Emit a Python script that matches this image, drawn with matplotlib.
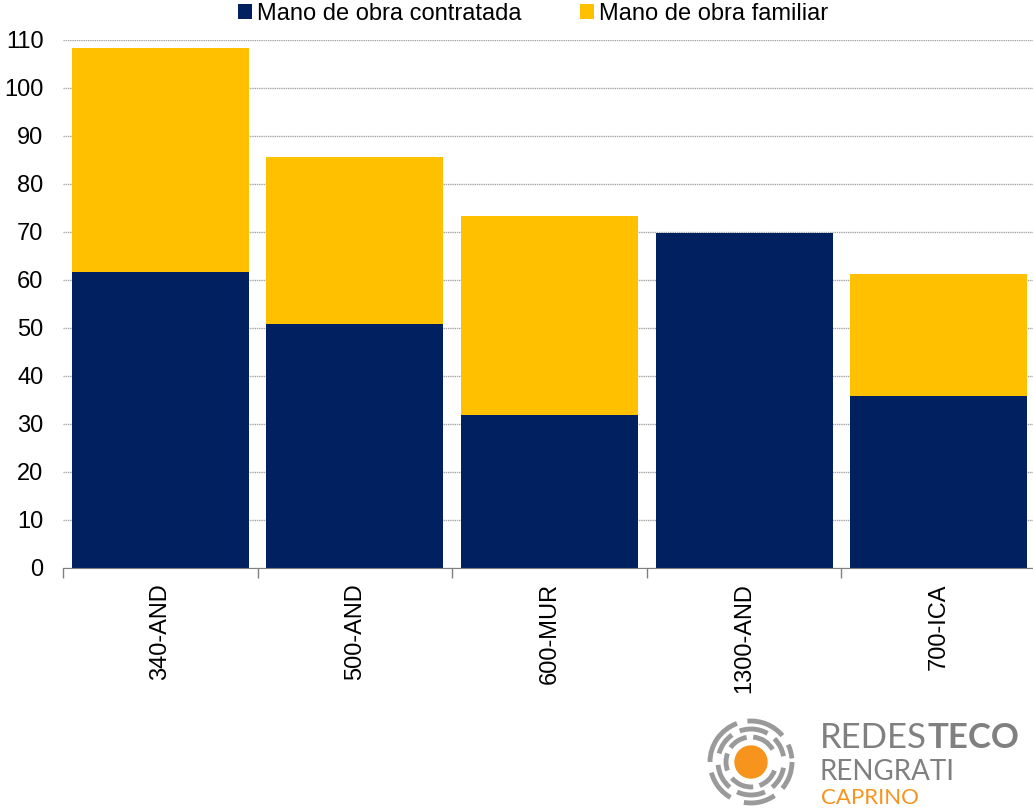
import matplotlib
matplotlib.use('Agg')
import matplotlib.pyplot as plt
import numpy as np
from matplotlib.patches import Circle, Arc

plt.rcParams['font.family'] = ['Liberation Sans', 'DejaVu Sans']

# data
categories = ['340-AND', '500-AND', '600-MUR', '1300-AND', '700-ICA']
contratada = [61.7, 50.8, 31.9, 69.8, 35.8]
familiar = [46.6, 34.8, 41.4, 0.0, 25.4]
series_names = ['Mano de obra contratada', 'Mano de obra familiar']

NAVY = '#002060'
GOLD = '#FFC000'

fig = plt.figure(figsize=(10.33, 8.1), dpi=100)
ax = fig.add_axes([63 / 1033, 1 - 568 / 810, (1036 - 63) / 1033, (568 - 40) / 810])

x = np.arange(len(categories))
ax.bar(x, contratada, width=0.91, color=NAVY, label=series_names[0], zorder=2)
ax.bar(x, familiar, width=0.91, bottom=contratada, color=GOLD, label=series_names[1], zorder=2)

ax.set_xlim(-0.5, len(categories) - 0.5)
ax.set_ylim(0, 110)
ax.set_yticks(np.arange(0, 111, 10))
ax.yaxis.grid(True, color='#a6a6a6', linestyle=(0, (1, 0.6)), linewidth=1.0, zorder=0)
ax.set_axisbelow(True)

ax.set_xticks(x)
ax.set_xticklabels(categories, rotation=90, fontsize=17)
ax.set_xticks(np.arange(-0.5, len(categories), 1), minor=True)
ax.tick_params(axis='x', which='major', length=0, pad=11)
ax.tick_params(axis='x', which='minor', length=7, color='#808080', width=1)
ax.tick_params(axis='y', length=0, labelsize=17, pad=14)

for s in ['left', 'right', 'top']:
    ax.spines[s].set_visible(False)
ax.spines['bottom'].set_color('#808080')

fig.legend(loc='center', bbox_to_anchor=(0.516, 0.983), ncol=2, frameon=False,
           fontsize=17, handlelength=0.6, handleheight=0.6, handletextpad=0.2,
           columnspacing=2.5)

# logo overlay in pixel coordinates
lg = fig.add_axes([0, 0, 1, 1], zorder=5)
lg.set_xlim(0, 1033)
lg.set_ylim(810, 0)
lg.axis('off')
cx, cy = 751, 762
lg.add_patch(Circle((cx, cy), 16, color='#F7941D'))
gray = '#9a9a9a'
rings = [
    (25, [(20, 70), (85, 140), (160, 200), (215, 260), (275, 330)]),
    (33, [(10, 50), (65, 115), (130, 175), (195, 235), (250, 300), (315, 350)]),
    (41, [(0, 40), (55, 100), (120, 165), (180, 250), (265, 320), (335, 355)]),
]
for r, segs in rings:
    for a0, a1 in segs:
        lg.add_patch(Arc((cx, cy), 2 * r, 2 * r, theta1=a0, theta2=a1, color=gray, linewidth=3.5))

logo_gray = '#808080'
t1 = lg.text(820, 748, 'REDES', fontsize=25, color=logo_gray, family='Lato', weight='normal', va='baseline', ha='left')
lg.annotate('TECO', xy=(1, 0), xycoords=t1, fontsize=25, color=logo_gray, family='Lato', weight='bold', va='bottom', ha='left')
lg.text(820, 780, 'RENGRATI', fontsize=20, color=logo_gray, family='Lato', weight='normal', va='baseline', ha='left')
lg.text(821, 804, 'CAPRINO', fontsize=16, color='#F7941D', family='Lato', weight='normal', va='baseline', ha='left')

fig.savefig('out.png', dpi=100)
